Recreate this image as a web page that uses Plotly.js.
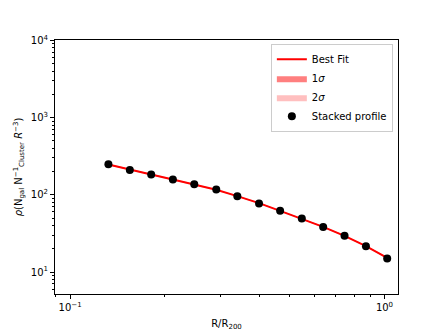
<!DOCTYPE html>
<html>
<head>
<meta charset="utf-8">
<script src="https://cdn.plot.ly/plotly-3.0.1.min.js"></script>
<style>
  html, body { margin: 0; padding: 0; background: #fff; }
  #chart { width: 431px; height: 331px; }
</style>
</head>
<body>
<div id="chart"></div>
<script>
// radius bins (R/R200)
const radius = [0.1324, 0.1549, 0.1811, 0.2123, 0.2483, 0.2917, 0.3404, 0.3990, 0.4656, 0.5458, 0.6383, 0.7464, 0.8730, 1.020];

// stacked profile and its errors
const density = [249, 210, 183, 158, 137, 117, 95.7, 77.1, 62.1, 49.3, 38.3, 29.5, 21.6, 15.0];
const densityErr = [5, 4, 3.5, 3, 2.6, 2.2, 1.8, 1.5, 1.2, 1.0, 0.8, 0.6, 0.5, 0.4];

// best fit and confidence bands
const fit = [247, 211, 183, 158, 136, 116, 96, 78, 62, 49, 38.4, 29.3, 21.7, 15.2];
const fit1Lo = [244, 209, 181, 156.5, 134.8, 115, 95.2, 77.3, 61.5, 48.6, 38.1, 29.0, 21.5, 15.0];
const fit1Hi = [250, 213, 185, 159.5, 137.2, 117, 96.8, 78.7, 62.5, 49.4, 38.7, 29.6, 21.9, 15.4];
const fit2Lo = [241, 207, 179, 155, 133.6, 114, 94.4, 76.6, 61.0, 48.2, 37.8, 28.7, 21.3, 14.8];
const fit2Hi = [253, 215, 187, 161, 138.4, 118, 97.6, 79.4, 63.0, 49.8, 39.0, 29.9, 22.1, 15.6];

const xTickVals = [0.1, 1];
const xTickText = ['10<sup>−1</sup>', '10<sup>0</sup>'];
const yTickVals = [10, 100, 1000, 10000];
const yTickText = ['10<sup>1</sup>', '10<sup>2</sup>', '10<sup>3</sup>', '10<sup>4</sup>'];
const xMinor = [0.09, 0.2, 0.3, 0.4, 0.5, 0.6, 0.7, 0.8, 0.9];
const yMinor = [6, 7, 8, 9, 20, 30, 40, 50, 60, 70, 80, 90, 200, 300, 400, 500, 600, 700, 800, 900,
  2000, 3000, 4000, 5000, 6000, 7000, 8000, 9000];

const traces = [
  { x: radius, y: fit2Lo, mode: 'lines', line: { width: 0 }, showlegend: false, hoverinfo: 'skip' },
  { x: radius, y: fit2Hi, mode: 'lines', line: { width: 0 }, fill: 'tonexty',
    fillcolor: 'rgba(255,0,0,0.25)', name: '2<i>σ</i>', legendrank: 3 },
  { x: radius, y: fit1Lo, mode: 'lines', line: { width: 0 }, showlegend: false, hoverinfo: 'skip' },
  { x: radius, y: fit1Hi, mode: 'lines', line: { width: 0 }, fill: 'tonexty',
    fillcolor: 'rgba(255,0,0,0.5)', name: '1<i>σ</i>', legendrank: 2 },
  { x: radius, y: fit, mode: 'lines', line: { color: 'red', width: 2 }, name: 'Best Fit', legendrank: 1 },
  { x: radius, y: density, mode: 'markers', name: 'Stacked profile', legendrank: 4,
    marker: { color: 'black', size: 8 },
    error_y: { type: 'data', array: densityErr, color: 'black', thickness: 1.2, width: 0 } }
];

const axisCommon = {
  type: 'log',
  showgrid: false,
  zeroline: false,
  showline: true,
  linecolor: 'black',
  linewidth: 1,
  mirror: true,
  ticks: 'outside',
  ticklen: 4,
  tickwidth: 1,
  tickcolor: 'black',
  tickfont: { family: 'DejaVu Sans', size: 10, color: 'black' },
  tickmode: 'array'
};

const layout = {
  width: 431,
  height: 331,
  margin: { l: 55, r: 33, t: 40, b: 37 },
  paper_bgcolor: 'white',
  plot_bgcolor: 'white',
  font: { family: 'DejaVu Sans', size: 10, color: 'black' },
  xaxis: Object.assign({}, axisCommon, {
    range: [-1.048, 0.043],
    tickvals: xTickVals,
    ticktext: xTickText,
    minor: { tickmode: 'array', tickvals: xMinor, ticks: 'outside', ticklen: 2, tickcolor: 'black' },
    title: { text: 'R/R<sub>200</sub>', font: { size: 10 }, standoff: 8 }
  }),
  yaxis: Object.assign({}, axisCommon, {
    range: [0.715, 4.005],
    tickvals: yTickVals,
    ticktext: yTickText,
    minor: { tickmode: 'array', tickvals: yMinor, ticks: 'outside', ticklen: 2, tickcolor: 'black' },
    title: { text: '<i>ρ</i>(N<sub>gal</sub> N<sup>−1</sup><sub>Cluster</sub> <i>R</i><sup>−3</sup>)', font: { size: 10 }, standoff: 6 }
  }),
  legend: {
    x: 0.985, y: 0.985, xanchor: 'right', yanchor: 'top',
    traceorder: 'normal',
    bgcolor: 'rgba(255,255,255,0.8)',
    bordercolor: '#cccccc', borderwidth: 1,
    font: { family: 'DejaVu Sans', size: 10 },
    tracegroupgap: 0
  },
  showlegend: true
};

Plotly.newPlot('chart', traces, layout, { displayModeBar: false, staticPlot: true });
</script>
</body>
</html>
